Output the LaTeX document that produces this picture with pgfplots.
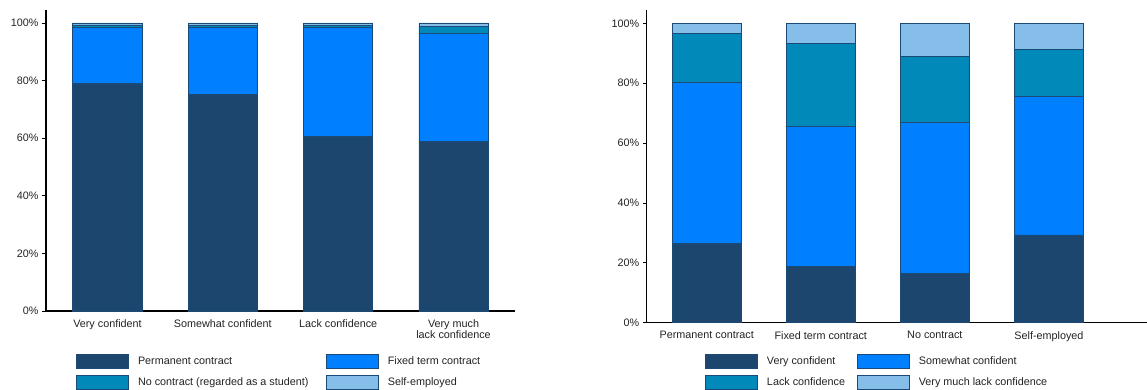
\documentclass[border=0pt]{standalone}
\usepackage{pgfplots}
\pgfplotsset{compat=1.18}
\usepackage{pgfplotstable}
\usepackage{fontspec}
\setmainfont{Liberation Sans}
\definecolor{cnavy}{HTML}{1D466E}
\definecolor{cblue}{HTML}{007FFF}
\definecolor{cteal}{HTML}{0089B9}
\definecolor{clight}{HTML}{85BEE8}
\definecolor{cedge}{HTML}{1A4A75}
\definecolor{ctext}{HTML}{222222}

\pgfplotstableread{
x a b c d
0 79.1 19.4 0.8 0.7
1 75.3 23.1 0.8 0.8
2 60.5 37.9 0.8 0.8
3 59.0 37.4 2.5 1.1
}\lefttab

\pgfplotstableread{
x a b c d
0 26.5 53.6 16.4 3.5
1 18.7 46.7 27.9 6.7
2 16.5 50.4 21.9 11.2
3 29.3 46.3 15.6 8.8
}\righttab

\pgfplotsset{
 mystyle/.style={
  scale only axis, ybar stacked, bar width=0.6,
  ymin=0, xtick=data, ytick={0,20,...,100},
  axis x line=bottom, axis y line=left,
  axis line style={-, line width=1.3pt, black},
  tick label style={font=\fontsize{10.8}{11.5}\selectfont, text=ctext},
  xticklabel style={align=center, yshift=-1pt},
  yticklabel={\pgfmathprintnumber{\tick}\%},
  /pgf/number format/assume math mode=true,
  major tick length=4pt, ytick style={line width=0.8pt, black}, xtick style={draw=none},
  tick align=outside,
  every axis plot/.append style={draw=cedge, line width=0.8pt},
  legend columns=2, legend cell align=left,
  legend style={draw=none, fill=none, font=\fontsize{10.8}{11.5}\selectfont, text=ctext,
    anchor=north west, row sep=6pt, inner sep=0pt,
    nodes={inner sep=0pt},
    /tikz/every odd column/.append style={column sep=9pt}},
  legend image code/.code={\draw[#1] (0pt,-7pt) rectangle (52pt,7pt);},
 }
}

\begin{document}
\begin{tikzpicture}
\useasboundingbox (0,0) rectangle (1147pt,389pt);
\begin{axis}[mystyle,
  at={(46pt,78pt)}, anchor=south west,
  width=469pt, height=301pt,
  xmin=-0.533, xmax=3.533, ymax=104.5,
  xticklabels={Very confident, Somewhat confident, Lack confidence, {Very much\\lack confidence}},
  legend style={at={(rel axis cs:0.064,-0.143)}},
]
\addplot[fill=cnavy] table[x=x,y=a]{\lefttab};
\addlegendentry{\makebox[188pt][l]{Permanent contract}}
\addplot[fill=cblue] table[x=x,y=b]{\lefttab};
\addlegendentry{Fixed term contract}
\addplot[fill=cteal] table[x=x,y=c]{\lefttab};
\addlegendentry{\makebox[188pt][l]{No contract (regarded as a student)}}
\addplot[fill=clight] table[x=x,y=d]{\lefttab};
\addlegendentry{Self-employed}
\end{axis}

\begin{axis}[mystyle,
  at={(646.7pt,66.3pt)}, anchor=south west,
  width=500.3pt, height=312.7pt,
  xmin=-0.526, xmax=3.86, ymax=104.44,
  xticklabels={Permanent contract, Fixed term contract, No contract, Self-employed},
  legend style={at={(rel axis cs:0.1165,-0.100)}},
]
\addplot[fill=cnavy] table[x=x,y=a]{\righttab};
\addlegendentry{\makebox[90pt][l]{Very confident}}
\addplot[fill=cblue] table[x=x,y=b]{\righttab};
\addlegendentry{Somewhat confident}
\addplot[fill=cteal] table[x=x,y=c]{\righttab};
\addlegendentry{\makebox[90pt][l]{Lack confidence}}
\addplot[fill=clight] table[x=x,y=d]{\righttab};
\addlegendentry{Very much lack confidence}
\end{axis}
\end{tikzpicture}
\end{document}
